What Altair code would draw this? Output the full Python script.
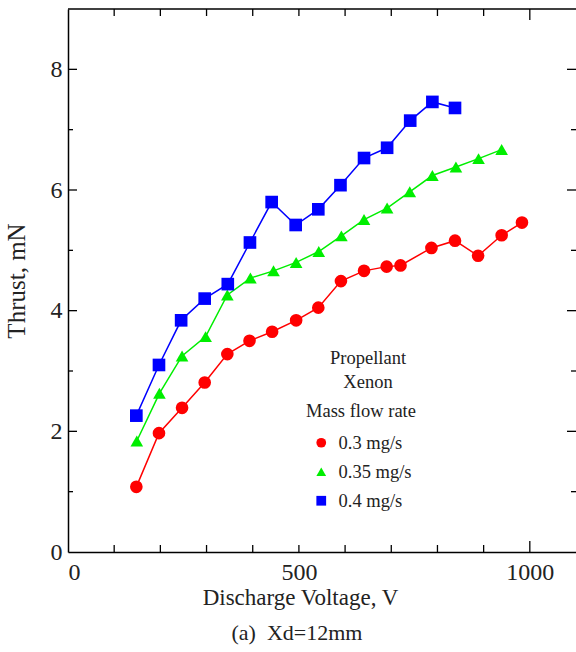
import altair as alt
import pandas as pd

# ---------------- data ----------------
rates = ["0.3 mg/s", "0.35 mg/s", "0.4 mg/s"]
colors = ["#ff0000", "#00ee00", "#0000ff"]
shapes = ["circle", "triangle-up", "square"]

v_03 = [148, 197, 247, 296, 345, 393, 442, 494, 542, 591, 641, 690, 720, 787, 838, 888, 939, 983]
t_03 = [1.08, 1.97, 2.39, 2.81, 3.28, 3.50, 3.65, 3.84, 4.05, 4.49, 4.66, 4.73, 4.75, 5.04, 5.16, 4.91, 5.25, 5.46]
v_035 = [149, 198, 247, 298, 345, 395, 445, 494, 543, 592, 641, 691, 740, 789, 840, 889, 939]
t_035 = [1.84, 2.63, 3.25, 3.57, 4.26, 4.54, 4.66, 4.80, 4.98, 5.24, 5.51, 5.70, 5.97, 6.24, 6.38, 6.52, 6.67]
v_04 = [148, 197, 245, 296, 346, 394, 441, 493, 542, 590, 641, 691, 741, 789, 838]
t_04 = [2.26, 3.10, 3.84, 4.20, 4.44, 5.13, 5.80, 5.42, 5.68, 6.08, 6.53, 6.70, 7.15, 7.46, 7.36]

x_labels = [0, 500, 1000]
y_labels = [0, 2, 4, 6, 8]
x_minor = [100, 200, 300, 400, 500, 600, 700, 800, 900]
x_major = [1000]
y_minor = [1, 3, 5, 7]
y_major = [2, 4, 6, 8]

note_lines = ["Propellant", "Xenon"]
x_title = "Discharge Voltage, V"
y_title = "Thrust, mN"
caption = "(a)\u00a0 Xd=12mm"

# ---------------- build ----------------
FONT = "Times New Roman, Liberation Serif, DejaVu Serif, serif"
W, H = 508, 543

rows = []
for rate, vs, ts in [(rates[0], v_03, t_03), (rates[1], v_035, t_035), (rates[2], v_04, t_04)]:
    for v, t in zip(vs, ts):
        rows.append({"voltage": v, "thrust": t, "rate": rate})
df = pd.DataFrame(rows)

xscale = alt.Scale(domain=[0, 1100], nice=False, zero=False)
yscale = alt.Scale(domain=[0, 9], nice=False, zero=False)
x_axis = alt.Axis(values=x_labels, title=x_title, format="d", titleX=232)
y_axis = alt.Axis(values=y_labels, title=y_title, format="d")

def X(field="voltage"):
    return alt.X(f"{field}:Q", scale=xscale, axis=x_axis)

def Y(field="thrust"):
    return alt.Y(f"{field}:Q", scale=yscale, axis=y_axis)

color_scale = alt.Scale(domain=rates, range=colors)
shape_scale = alt.Scale(domain=rates, range=shapes)
legend = alt.Legend(
    title="Mass flow rate", orient="none", legendX=238, legendY=393,
    titleFont=FONT, titleFontSize=18.5, titleFontWeight="normal", titleColor="#222",
    labelFont=FONT, labelFontSize=18.5, labelColor="#222",
    symbolSize=95, symbolStrokeWidth=0, rowPadding=10, titlePadding=13,
    labelOffset=8, symbolOffset=6, padding=0,
)

layers = []
# connecting lines, one per flow rate
for rate, col in zip(rates, colors):
    layers.append(
        alt.Chart(df).transform_filter(alt.datum.rate == rate)
        .mark_line(strokeWidth=1.5, color=col)
        .encode(x=X(), y=Y())
    )

points = alt.Chart(df).mark_point(filled=True, opacity=1, size=160).encode(
    x=X(), y=Y(),
    color=alt.Color("rate:N", scale=color_scale, legend=legend),
    shape=alt.Shape("rate:N", scale=shape_scale, legend=legend),
)
layers.append(points)

# tick marks (inward) on all four sides
def xticks(vals, length):
    d = pd.DataFrame({"voltage": vals})
    b = alt.Chart(d).mark_rule(color="black", strokeWidth=1.3)
    return [b.encode(x=X(), y=alt.value(H), y2=alt.value(H - length)),
            b.encode(x=X(), y=alt.value(0), y2=alt.value(length))]

def yticks(vals, length):
    d = pd.DataFrame({"thrust": vals})
    b = alt.Chart(d).mark_rule(color="black", strokeWidth=1.3)
    return [b.encode(y=Y(), x=alt.value(0), x2=alt.value(length)),
            b.encode(y=Y(), x=alt.value(W), x2=alt.value(W - length))]

layers += xticks(x_minor, 7) + xticks(x_major, 11) + yticks(y_minor, 5) + yticks(y_major, 9)

# top frame line
layers.append(alt.Chart(pd.DataFrame({"a": [0]})).mark_rule(color="black", strokeWidth=1.5).encode(
    x=alt.value(0), x2=alt.value(W), y=alt.value(0)))

# annotation text
for i, line in enumerate(note_lines):
    layers.append(alt.Chart(pd.DataFrame({"a": [0]})).mark_text(
        font=FONT, fontSize=18.5, color="#222", align="center", baseline="middle").encode(
        x=alt.value(300), y=alt.value(349 + 24 * i), text=alt.value(line)))

chart = alt.layer(*layers).properties(
    width=W, height=H,
    autosize=alt.AutoSizeParams(type="none"),
    padding={"left": 68, "top": 9, "right": 0, "bottom": 100},
    title=alt.TitleParams(caption, orient="bottom", font=FONT, fontSize=22,
                          fontWeight="normal", color="#222", offset=14, dx=-25),
).configure_view(stroke=None).configure_axis(
    grid=False, ticks=False, domainColor="black", domainWidth=1.5,
    labelFont=FONT, labelFontSize=24, labelColor="#222", labelPadding=8,
    titleFont=FONT, titleFontSize=23, titleFontWeight="normal", titleColor="#222",
).configure_axisX(titlePadding=2).configure_axisY(titlePadding=21, labelPadding=6, titleFontSize=25)

chart.save("out.html", embed_options={"renderer": "svg", "actions": False})
